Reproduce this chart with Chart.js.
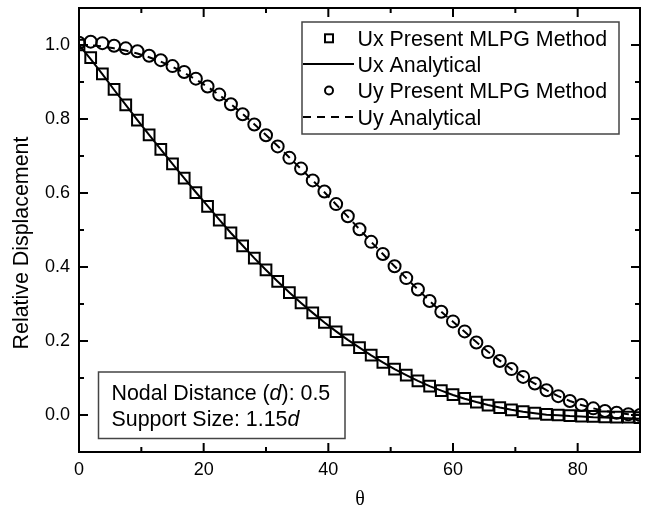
<!DOCTYPE html>
<html><head><meta charset="utf-8">
<script src="https://cdn.jsdelivr.net/npm/chart.js@4.4.1/dist/chart.umd.min.js"></script>
<style>html,body{margin:0;padding:0;background:#fff}</style>
</head><body>
<canvas id="c" width="645" height="511"></canvas>
<script>
// ---- data ----
const theta = [0, 1.875, 3.75, 5.625, 7.5, 9.375, 11.25, 13.125, 15, 16.875, 18.75, 20.625, 22.5, 24.375, 26.25, 28.125, 30, 31.875, 33.75, 35.625, 37.5, 39.375, 41.25, 43.125, 45, 46.875, 48.75, 50.625, 52.5, 54.375, 56.25, 58.125, 60, 61.875, 63.75, 65.625, 67.5, 69.375, 71.25, 73.125, 75, 76.875, 78.75, 80.625, 82.5, 84.375, 86.25, 88.125, 90];
const uxMLPG = [1.000, 0.966, 0.922, 0.880, 0.838, 0.797, 0.757, 0.718, 0.679, 0.640, 0.601, 0.564, 0.527, 0.492, 0.457, 0.424, 0.392, 0.361, 0.331, 0.303, 0.276, 0.250, 0.225, 0.203, 0.182, 0.162, 0.142, 0.124, 0.108, 0.092, 0.078, 0.066, 0.055, 0.045, 0.035, 0.027, 0.020, 0.014, 0.009, 0.005, 0.002, 0.000, -0.002, -0.003, -0.004, -0.005, -0.006, -0.006, -0.007];
const uxAnalytical = [1.000, 0.962, 0.921, 0.879, 0.838, 0.797, 0.757, 0.718, 0.679, 0.640, 0.602, 0.565, 0.528, 0.492, 0.458, 0.424, 0.392, 0.361, 0.331, 0.303, 0.276, 0.250, 0.226, 0.203, 0.182, 0.161, 0.142, 0.124, 0.108, 0.092, 0.078, 0.066, 0.054, 0.044, 0.035, 0.027, 0.020, 0.014, 0.009, 0.005, 0.001, -0.001, -0.003, -0.004, -0.006, -0.007, -0.008, -0.009, -0.010];
const uyMLPG = [1.006, 1.009, 1.005, 0.998, 0.991, 0.983, 0.971, 0.959, 0.943, 0.927, 0.909, 0.888, 0.866, 0.840, 0.813, 0.785, 0.756, 0.726, 0.695, 0.666, 0.634, 0.604, 0.570, 0.537, 0.502, 0.468, 0.435, 0.402, 0.370, 0.339, 0.308, 0.279, 0.253, 0.226, 0.196, 0.170, 0.146, 0.124, 0.103, 0.085, 0.067, 0.051, 0.038, 0.027, 0.018, 0.011, 0.006, 0.002, 0.000];
const uyAnalytical = [1.000, 0.999, 0.996, 0.991, 0.985, 0.977, 0.967, 0.955, 0.941, 0.925, 0.907, 0.887, 0.865, 0.840, 0.814, 0.786, 0.757, 0.727, 0.696, 0.665, 0.634, 0.602, 0.569, 0.536, 0.502, 0.468, 0.435, 0.402, 0.370, 0.339, 0.308, 0.279, 0.252, 0.225, 0.197, 0.171, 0.147, 0.124, 0.103, 0.085, 0.067, 0.051, 0.038, 0.027, 0.018, 0.011, 0.006, 0.002, 0.000];
const xTickValues = [0, 20, 40, 60, 80];
const xMinorValues = [10, 30, 50, 70];
const yTickValues = [0.0, 0.2, 0.4, 0.6, 0.8, 1.0];
const yMinorValues = [0.1, 0.3, 0.5, 0.7, 0.9];
const seriesLabels = ['Ux Present MLPG Method', 'Ux Analytical', 'Uy Present MLPG Method', 'Uy Analytical'];
const xTitle = 'θ';
const yTitle = 'Relative Displacement';
const noteLine1 = [['Nodal Distance (', false], ['d', true], ['): 0.5', false]];
const noteLine2 = [['Support Size: 1.15', false], ['d', true]];

const pts = (ys) => theta.map((t, i) => ({x: t, y: ys[i]}));
const SANS = '"Liberation Sans", Arial, sans-serif';
const TXT = '21.4px ' + SANS;

const decor = {
  id: 'decor',
  afterDatasetsDraw(chart) {
    const {ctx, chartArea: a, scales: {x, y}} = chart;
    ctx.save();
    ctx.strokeStyle = '#000';
    ctx.lineWidth = 2;
    ctx.strokeRect(a.left, a.top, a.right - a.left, a.bottom - a.top);
    const xt = (v, len) => {
      const p = x.getPixelForValue(v);
      ctx.beginPath();
      ctx.moveTo(p, a.bottom); ctx.lineTo(p, a.bottom - len);
      ctx.moveTo(p, a.top); ctx.lineTo(p, a.top + len);
      ctx.stroke();
    };
    const yt = (v, len) => {
      const p = y.getPixelForValue(v);
      ctx.beginPath();
      ctx.moveTo(a.left, p); ctx.lineTo(a.left + len, p);
      ctx.moveTo(a.right, p); ctx.lineTo(a.right - len, p);
      ctx.stroke();
    };
    xTickValues.forEach(v => xt(v, 9));
    xMinorValues.forEach(v => xt(v, 5));
    yTickValues.forEach(v => yt(v, 9));
    yMinorValues.forEach(v => yt(v, 5));
    ctx.restore();
  },
  afterDraw(chart) {
    const {ctx} = chart;
    const ds = chart.data.datasets;
    ctx.save();
    // axis titles
    ctx.fillStyle = '#000';
    ctx.font = TXT;
    ctx.textAlign = 'center';
    ctx.textBaseline = 'middle';
    ctx.save();
    ctx.translate(22, 243);
    ctx.rotate(-Math.PI / 2);
    ctx.fillText(yTitle, 0, 0);
    ctx.restore();
    ctx.font = '20px "Liberation Serif", "Times New Roman", serif';
    ctx.fillText(xTitle, 360, 500);

    // legend box
    ctx.lineWidth = 1.5;
    ctx.strokeStyle = '#444';
    ctx.strokeRect(302, 22, 317, 112);
    ctx.textAlign = 'left';
    ctx.textBaseline = 'alphabetic';
    ctx.font = TXT;
    const rows = [38.3, 64, 90.5, 117];
    ds.forEach((d, i) => {
      const cy = rows[i];
      ctx.strokeStyle = '#000';
      ctx.lineWidth = 2;
      if (d.showLine) {
        ctx.setLineDash(d.borderDash || []);
        ctx.beginPath(); ctx.moveTo(303, cy); ctx.lineTo(354, cy); ctx.stroke();
        ctx.setLineDash([]);
      } else if (d.pointStyle === 'rect') {
        ctx.strokeRect(325, cy - 4, 8, 8);
      } else {
        ctx.beginPath(); ctx.arc(329, cy, 4, 0, Math.PI * 2); ctx.stroke();
      }
      ctx.fillStyle = '#000';
      ctx.fillText(d.label, 357.5, cy + 7.5);
    });

    // note box
    ctx.lineWidth = 1.5;
    ctx.strokeStyle = '#444';
    ctx.strokeRect(98.5, 372, 246.5, 66.5);
    const drawRuns = (runs, x0, yb) => {
      let xx = x0;
      runs.forEach(([txt, it]) => {
        ctx.font = (it ? 'italic ' : '') + TXT;
        ctx.fillText(txt, xx, yb);
        xx += ctx.measureText(txt).width;
      });
    };
    drawRuns(noteLine1, 111.5, 399.5);
    drawRuns(noteLine2, 111.5, 426);
    ctx.restore();
  }
};

new Chart(document.getElementById('c'), {
  type: 'scatter',
  data: {
    datasets: [
      {label: seriesLabels[0], data: pts(uxMLPG), showLine: false, pointStyle: 'rect', pointRadius: 7.6, pointHoverRadius: 7.6, pointBorderWidth: 2, borderColor: '#000', pointBackgroundColor: 'rgba(0,0,0,0)', backgroundColor: 'rgba(0,0,0,0)', clip: 0, order: 1},
      {label: seriesLabels[1], data: pts(uxAnalytical), showLine: true, pointRadius: 0, borderColor: '#000', borderWidth: 2, tension: 0, clip: 0, order: 2},
      {label: seriesLabels[2], data: pts(uyMLPG), showLine: false, pointStyle: 'circle', pointRadius: 6, pointHoverRadius: 6, pointBorderWidth: 2, borderColor: '#000', pointBackgroundColor: 'rgba(0,0,0,0)', backgroundColor: 'rgba(0,0,0,0)', clip: 0, order: 3},
      {label: seriesLabels[3], data: pts(uyAnalytical), showLine: true, pointRadius: 0, borderColor: '#000', borderWidth: 2, borderDash: [8, 6], tension: 0, clip: 0, order: 4}
    ]
  },
  options: {
    responsive: false,
    animation: false,
    devicePixelRatio: 1,
    layout: {autoPadding: false, padding: {left: 0, right: 5, top: 8, bottom: 0}},
    plugins: {legend: {display: false}, tooltip: {enabled: false}},
    events: [],
    scales: {
      x: {
        type: 'linear', min: 0, max: 90,
        afterBuildTicks: s => { s.ticks = xTickValues.map(v => ({value: v})); },
        afterFit: s => { s.height = 59; s.paddingLeft = 0; s.paddingRight = 0; },
        grid: {display: false, drawTicks: false}, border: {display: false},
        ticks: {padding: 7, color: '#000', font: {family: SANS, size: 18}, maxRotation: 0, callback: v => String(v)}
      },
      y: {
        type: 'linear', min: -0.1, max: 1.1,
        afterBuildTicks: s => { s.ticks = yTickValues.map(v => ({value: v})); },
        afterFit: s => { s.width = 79; s.paddingTop = 0; s.paddingBottom = 0; },
        grid: {display: false, drawTicks: false}, border: {display: false},
        ticks: {padding: 9, color: '#000', font: {family: SANS, size: 18}, callback: v => Number(v).toFixed(1)}
      }
    }
  },
  plugins: [decor]
});
</script>
</body></html>
